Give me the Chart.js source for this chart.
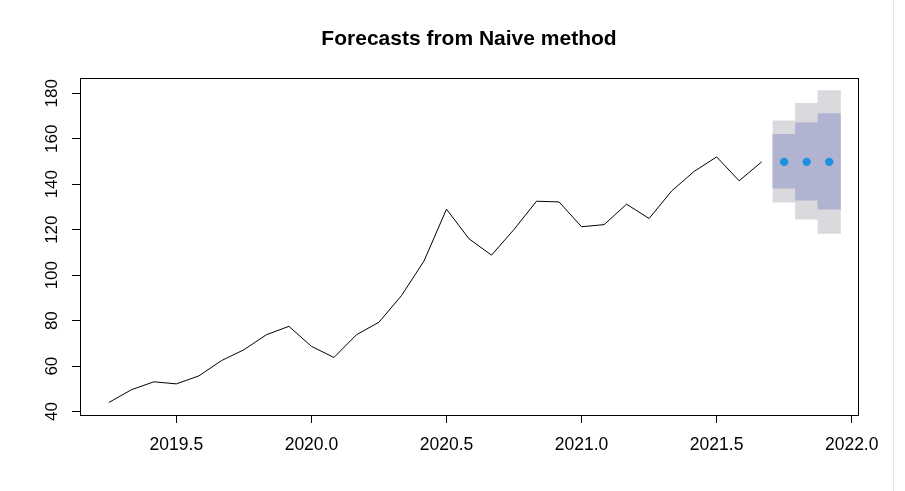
<!DOCTYPE html>
<html>
<head>
<meta charset="utf-8">
<script src="https://cdn.jsdelivr.net/npm/chart.js@4/dist/chart.umd.min.js"></script>
<style>
  html, body { margin: 0; padding: 0; background: #fff; }
  #wrap { position: relative; width: 905px; height: 491px; }
  #edge { position: absolute; left: 893px; top: 0; width: 1px; height: 491px; background: #e4e4e4; }
</style>
</head>
<body>
<div id="wrap">
<canvas id="c" width="905" height="491"></canvas>
<div id="edge"></div>
</div>
<script>
// ---- data (monthly series, start 2019.25, frequency 12) ----
const startTime = 2019.25;
const frequency = 12;
const observed = [44.0, 49.6, 53.1, 52.2, 55.7, 62.4, 67.2, 73.8, 77.5, 68.7,
                  63.8, 73.8, 79.3, 91.0, 106.2, 129.0, 116.0, 108.8, 120.1, 132.5,
                  132.2, 121.3, 122.2, 131.2, 124.9, 137.0, 145.6, 152.0, 141.5, 149.8];
const forecastMean = [149.8, 149.8, 149.8];
const lo80 = [138.3, 133.0, 129.0];
const hi80 = [161.9, 167.1, 171.0];
const lo95 = [132.1, 124.6, 118.4];
const hi95 = [167.9, 175.6, 181.2];
const xTickStep = 0.5;
const yTickStep = 20;
const titleText = "Forecasts from Naive method";

// ---- build datasets ----
const obsTimes = observed.map((_, i) => startTime + i / frequency);
const fcTimes = forecastMean.map((_, i) => startTime + (observed.length + i) / frequency);

const obsPts = observed.map((v, i) => ({ x: obsTimes[i], y: v }));
const fcPts = forecastMean.map((v, i) => ({ x: fcTimes[i], y: v }));
const band95 = fcTimes.map((t, i) => ({ x: t, y: [lo95[i], hi95[i]] }));
const band80 = fcTimes.map((t, i) => ({ x: t, y: [lo80[i], hi80[i]] }));

// R-style 4% axis extension
const xMinD = obsTimes[0], xMaxD = fcTimes[fcTimes.length - 1];
const xPad = (xMaxD - xMinD) * 0.04;
const yMinD = Math.min(...observed, ...lo95), yMaxD = Math.max(...observed, ...hi95);
const yPad = (yMaxD - yMinD) * 0.04;

const FONT = "'Liberation Sans', Arial, Helvetica, sans-serif";
Chart.defaults.color = '#000';
Chart.defaults.font.family = FONT;

// box around plot region + title centred over the plot region (as R does)
const boxPlugin = {
  id: 'box',
  afterDraw(chart) {
    const { ctx, chartArea: a } = chart;
    ctx.save();
    ctx.strokeStyle = '#000';
    ctx.lineWidth = 1;
    ctx.strokeRect(Math.round(a.left) + 0.5, Math.round(a.top) + 0.5,
                   Math.round(a.right - a.left), Math.round(a.bottom - a.top));
    ctx.fillStyle = '#000';
    ctx.font = "bold 21px " + FONT;
    ctx.textAlign = 'center';
    ctx.textBaseline = 'middle';
    ctx.fillText(titleText, (a.left + a.right) / 2, 39);
    ctx.restore();
  }
};

new Chart(document.getElementById('c'), {
  type: 'line',
  data: {
    datasets: [
      { type: 'line', data: obsPts, borderColor: '#000', borderWidth: 1, pointRadius: 0, fill: false, tension: 0, order: 0 },
      { type: 'line', data: fcPts, showLine: false, pointRadius: 4.2, pointBackgroundColor: '#1f8fe3', pointBorderWidth: 0, order: 0 },
      { type: 'bar', data: band80, backgroundColor: '#b0b4d1', borderWidth: 0, grouped: false,
        barPercentage: 1, categoryPercentage: 1, order: 1 },
      { type: 'bar', data: band95, backgroundColor: '#dadade', borderWidth: 0, grouped: false,
        barPercentage: 1, categoryPercentage: 1, order: 2 }
    ]
  },
  options: {
    responsive: false,
    animation: false,
    events: [],
    layout: { padding: { top: 78, right: 47, bottom: 0, left: 0 } },
    plugins: {
      legend: { display: false },
      tooltip: { enabled: false },
      title: { display: false }
    },
    scales: {
      x: {
        type: 'linear', offset: false,
        min: xMinD - xPad, max: xMaxD + xPad,
        afterFit(s) { s.height = 76; },
        border: { display: false },
        grid: { display: true, offset: false, drawOnChartArea: false, drawTicks: true, tickLength: 8, tickColor: '#000', color: '#000' },
        ticks: {
          stepSize: xTickStep, includeBounds: false, autoSkip: false, maxRotation: 0,
          padding: 12, color: '#000', font: { family: FONT, size: 17.5 },
          callback: v => Number(v).toFixed(1)
        }
      },
      y: {
        type: 'linear',
        min: yMinD - yPad, max: yMaxD + yPad,
        afterFit(s) { s.width = 80; },
        border: { display: false },
        grid: { display: true, offset: false, drawOnChartArea: false, drawTicks: true, tickLength: 8, tickColor: '#000', color: '#000' },
        ticks: {
          stepSize: yTickStep, includeBounds: false, autoSkip: false,
          minRotation: 90, maxRotation: 90, crossAlign: 'center',
          padding: 6, color: '#000', font: { family: FONT, size: 17 },
          callback: v => String(Math.round(v))
        }
      }
    }
  },
  plugins: [boxPlugin]
});
</script>
</body>
</html>
